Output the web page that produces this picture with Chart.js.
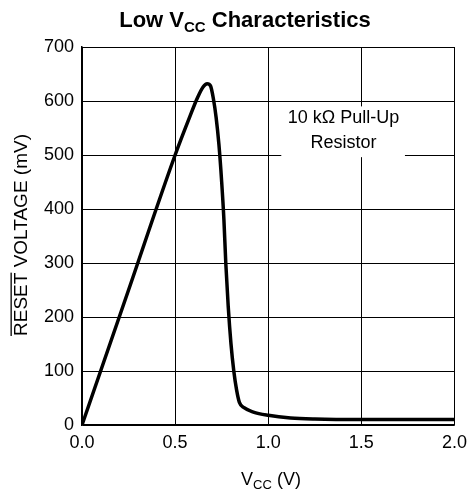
<!DOCTYPE html>
<html>
<head>
<meta charset="utf-8">
<script src="https://cdn.jsdelivr.net/npm/chart.js@4/dist/chart.umd.min.js"></script>
<style>
  html, body { margin: 0; padding: 0; background: #fff; }
  #wrap { width: 474px; height: 497px; }
</style>
</head>
<body>
<div id="wrap"><canvas id="lowVccChart"></canvas></div>
<script>
// values
const vccVolts = [0, 0.25, 0.5, 0.58, 0.62, 0.65, 0.672, 0.69, 0.705, 0.72, 0.735, 0.75, 0.762, 0.772, 0.785, 0.80, 0.815, 0.83, 0.845, 0.87, 0.92, 1.0, 1.12, 1.25, 1.5, 2.0];
const resetMv  = [0, 250, 500, 572, 606, 626, 632, 628, 605, 570, 520, 450, 380, 300, 220, 150, 100, 65, 42, 32, 24, 18, 13, 11, 10, 10];
const xTicks = [0, 0.5, 1.0, 1.5, 2.0];
const yTicks = [0, 100, 200, 300, 400, 500, 600, 700];
const noteLines = ['10 kΩ Pull-Up', 'Resistor'];

const FONT = '"Liberation Sans", Arial, Helvetica, sans-serif';

function drawParts(ctx, parts, x, y) {
    // parts: [text, size, bold, dy]
    let w = 0;
    parts.forEach(p => {
        ctx.font = (p[2] ? 'bold ' : '') + p[1] + 'px ' + FONT;
        w += ctx.measureText(p[0]).width;
    });
    let cx = x - w / 2;
    const spans = [];
    parts.forEach(p => {
        ctx.font = (p[2] ? 'bold ' : '') + p[1] + 'px ' + FONT;
        ctx.fillText(p[0], cx, y + (p[3] || 0));
        const pw = ctx.measureText(p[0]).width;
        spans.push([cx, cx + pw]);
        cx += pw;
    });
    return spans;
}

const textPlugin = {
    id: 'textPlugin',
    afterDraw(chart) {
        const ctx = chart.ctx;
        ctx.save();
        ctx.fillStyle = '#000';
        ctx.textBaseline = 'alphabetic';
        ctx.textAlign = 'left';

        // title
        drawParts(ctx, [['Low V', 22, true], ['CC', 15, true, 5], [' Characteristics', 22, true]], 245, 27);

        // x axis title
        drawParts(ctx, [['V', 18], ['CC', 13, false, 4], [' (V)', 18]], 271, 485);

        // y axis title, rotated, with bar over RESET
        ctx.translate(27, 235);
        ctx.rotate(-Math.PI / 2);
        const spans = drawParts(ctx, [['RESET', 19], [' VOLTAGE (mV)', 19]], 0, 0);
        ctx.fillRect(spans[0][0], -16.5, spans[0][1] - spans[0][0], 1.3);
        ctx.restore();
    }
};

const notePlugin = {
    id: 'notePlugin',
    beforeDatasetsDraw(chart) {
        const ctx = chart.ctx;
        const xs = chart.scales.x, ys = chart.scales.y;
        ctx.save();
        ctx.fillStyle = '#fff';
        const l = xs.getPixelForValue(1.07), r = xs.getPixelForValue(1.734);
        const t = ys.getPixelForValue(590), b = ys.getPixelForValue(496);
        ctx.fillRect(l, t, r - l, b - t);
        ctx.fillStyle = '#000';
        ctx.font = '18px ' + FONT;
        ctx.textAlign = 'center';
        ctx.fillText(noteLines[0], xs.getPixelForValue(1.404), ys.getPixelForValue(559));
        ctx.fillText(noteLines[1], xs.getPixelForValue(1.404), ys.getPixelForValue(513));
        ctx.restore();
    }
};

new Chart(document.getElementById('lowVccChart'), {
    type: 'line',
    data: {
        datasets: [{
            data: vccVolts.map((v, i) => ({ x: v, y: resetMv[i] })),
            borderColor: '#000',
            borderWidth: 3.5,
            pointRadius: 0,
            fill: false,
            cubicInterpolationMode: 'monotone'
        }]
    },
    options: {
        responsive: true,
        maintainAspectRatio: false,
        animation: false,
        layout: { padding: { top: 47, right: 16, left: 0, bottom: 0 } },
        plugins: {
            legend: { display: false },
            tooltip: { enabled: false }
        },
        scales: {
            x: {
                type: 'linear',
                min: 0,
                max: 2,
                afterBuildTicks: s => { s.ticks = xTicks.map(v => ({ value: v })); },
                afterFit: s => { s.height = 72; },
                border: { color: '#000', width: 1.5 },
                grid: { color: '#000', lineWidth: 1, drawTicks: false },
                ticks: {
                    color: '#000',
                    padding: 7,
                    font: { family: FONT, size: 18 },
                    callback: v => Number(v).toFixed(1)
                }
            },
            y: {
                min: 0,
                max: 700,
                afterBuildTicks: s => { s.ticks = yTicks.map(v => ({ value: v })); },
                afterFit: s => { s.width = 82; },
                border: { color: '#000', width: 1.5 },
                grid: { color: '#000', lineWidth: 1, drawTicks: false },
                ticks: {
                    color: '#000',
                    padding: 8,
                    font: { family: FONT, size: 18 }
                }
            }
        }
    },
    plugins: [notePlugin, textPlugin]
});
</script>
</body>
</html>
